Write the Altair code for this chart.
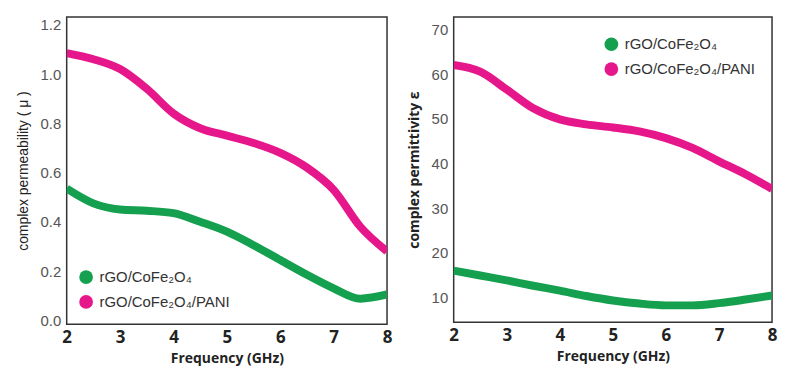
import altair as alt
import pandas as pd

freq = [2, 2.5, 3, 3.5, 4, 4.5, 5, 5.5, 6, 6.5, 7, 7.5, 8]
mu_cfo = [0.535, 0.475, 0.45, 0.445, 0.435, 0.40, 0.36, 0.305, 0.245, 0.185, 0.13, 0.088, 0.105]
mu_pani = [1.085, 1.06, 1.02, 0.94, 0.84, 0.78, 0.75, 0.72, 0.68, 0.62, 0.53, 0.38, 0.28]
eps_cfo = [16.0, 14.9, 13.8, 12.6, 11.5, 10.3, 9.3, 8.6, 8.2, 8.2, 8.7, 9.5, 10.4]
eps_pani = [62.1, 60.6, 56.6, 52.4, 49.9, 48.8, 48.1, 47.2, 45.7, 43.5, 40.5, 37.6, 34.3]

names = ["rGO/CoFe\u2082O\u2084", "rGO/CoFe\u2082O\u2084/PANI"]
colors = ["#14a04e", "#e6178b"]

def frame(a, b):
    rows = []
    for f, v in zip(freq, a):
        rows.append({"f": f, "v": v, "s": names[0]})
    for f, v in zip(freq, b):
        rows.append({"f": f, "v": v, "s": names[1]})
    return pd.DataFrame(rows)

df_mu = frame(mu_cfo, mu_pani)
df_eps = frame(eps_cfo, eps_pani)

xaxis = alt.Axis(values=[2, 3, 4, 5, 6, 7, 8], format="d", labelFont="Open Sans",
                 labelFontWeight="bold", labelFontSize=17, labelColor="#222",
                 titleFont="Open Sans", titleFontWeight="bold", titleFontSize=14,
                 titleColor="#222", ticks=False, domain=False, grid=False,
                 labelPadding=5, titlePadding=6, labelFlush=False)

cscale = alt.Scale(domain=names, range=colors)


def panel(df, ytitle, ydomain, yvals, yfmt, tfont, tweight, lx, ly, w, h):
    base = alt.Chart(df).encode(
        x=alt.X("f:Q", title="Frequency (GHz)", scale=alt.Scale(domain=[2, 8], nice=False), axis=xaxis),
        y=alt.Y("v:Q", title=ytitle,
                scale=alt.Scale(domain=ydomain, nice=False, zero=False),
                axis=alt.Axis(values=yvals, format=yfmt,
                              labelFont="Liberation Sans", labelFontSize=15, labelColor="#555",
                              titleFont=tfont, titleFontSize=14, titleColor="#222",
                              titleFontWeight=tweight, ticks=False, domain=False, grid=False,
                              labelPadding=6, titlePadding=10)),
        color=alt.Color("s:N", scale=cscale,
                        legend=alt.Legend(orient="none", legendX=lx, legendY=ly, title=None,
                                          symbolType="circle", symbolSize=190,
                                          symbolStrokeWidth=0, symbolOpacity=1,
                                          labelFont="Liberation Sans", labelFontSize=15,
                                          labelColor="#333", labelOffset=6, rowPadding=9,
                                          padding=0, labelLimit=300)),
    )
    return alt.layer(
        base.mark_line(strokeWidth=8, interpolate="monotone", clip=True),
        base.mark_point(filled=True, opacity=0, size=1, clip=True),
    ).properties(width=w, height=h)


left = panel(df_mu, "complex permeability ( \u03bc )", [-0.016, 1.232],
             [0, 0.2, 0.4, 0.6, 0.8, 1.0, 1.2], ".1f", "Liberation Sans", "normal",
             12, 254, 322, 309)
right = panel(df_eps, "complex permittivity \u03b5", [4.4, 72.9],
              [10, 20, 30, 40, 50, 60, 70], "d", "Open Sans", "bold",
              151, 20, 320, 307)

chart = alt.hconcat(left, right, spacing=13).resolve_scale(color="independent").properties(
    padding={"left": 7, "top": 7, "right": 0, "bottom": 0}
).configure(background="white").configure_view(stroke="#333", strokeWidth=1.5)

chart.save("out.html", embed_options={"renderer": "svg", "actions": False})
